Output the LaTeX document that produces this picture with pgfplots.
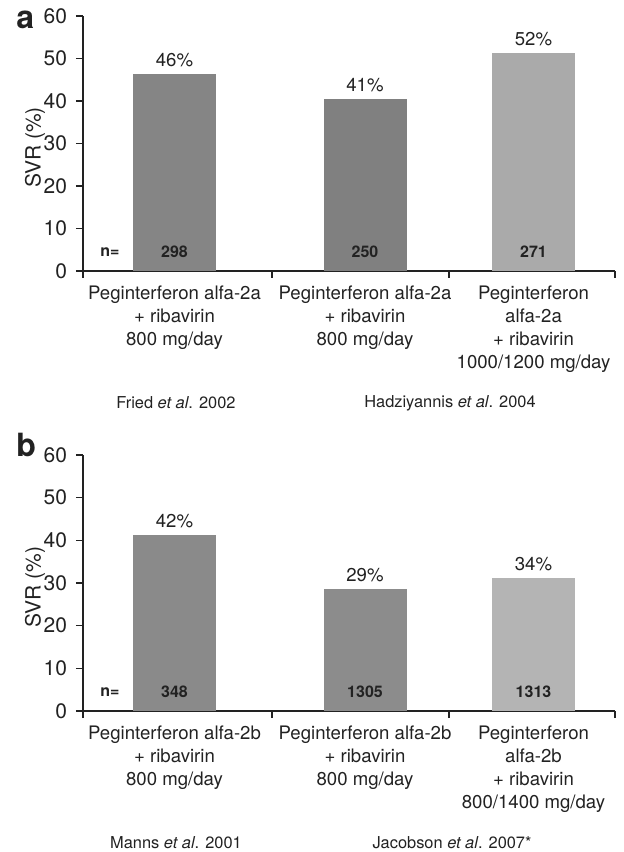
\documentclass[border=0pt]{standalone}
\usepackage{fontspec}
\setmainfont{TeX Gyre Heros}
\usepackage{pgfplots}
\pgfplotsset{compat=1.18}
\definecolor{txt}{HTML}{222222}
\definecolor{ga1}{RGB}{133,133,133}
\definecolor{ga2}{RGB}{128,128,128}
\definecolor{ga3}{RGB}{170,170,170}
\definecolor{gb1}{RGB}{138,138,138}
\definecolor{gb2}{RGB}{140,140,140}
\definecolor{gb3}{RGB}{180,180,180}
\newcommand{\lab}{\fontsize{9.3}{11.5}\selectfont}
\tikzset{nlab/.style={font=\bfseries\fontsize{8}{9}\selectfont, text=txt}}
\pgfplotsset{
 svr/.style={
  scale only axis, width=266pt,
  xmin=83, xmax=615, ymin=0, ymax=60,
  axis x line=bottom, axis y line=left,
  axis line style={-, line width=0.8pt, color=txt},
  tick align=outside, major tick length=3.5pt,
  tick style={line width=0.7pt, color=txt},
  ytick={0,10,...,60},
  xtick={83,272,449,615}, xticklabels={},
  /pgf/number format/assume math mode=true,
  yticklabel style={font=\fontsize{10.5}{12}\selectfont, text=txt, xshift=-1pt},
  ylabel={SVR (\%)},
  ylabel style={at={(axis description cs:0,0.5)}, anchor=center, yshift=24pt, xshift=-2pt, font=\fontsize{10.5}{12}\selectfont, text=txt},
  ybar, bar width=41.5pt,
  nodes near coords, point meta=explicit symbolic,
  every node near coord/.append style={font=\lab, text=txt},
  clip=false,
  extra x ticks={174.5,365,533.5},
  extra x tick style={major tick length=0pt, tick label style={align=center, font=\lab, text=txt, anchor=north, yshift=-4pt}},
 },
}
\begin{document}
\begin{tikzpicture}
\useasboundingbox (0,0) rectangle (312pt,426pt);
% panel a
\begin{axis}[svr, at={(41.5pt,290.5pt)}, anchor=south west, height=127.5pt,
  extra x tick labels={Peginterferon alfa-2a\\+ ribavirin\\800 mg/day,
                       Peginterferon alfa-2a\\+ ribavirin\\800 mg/day,
                       Peginterferon\\alfa-2a\\+ ribavirin\\1000/1200 mg/day}]
\addplot[fill=ga1, draw=none, bar shift=0pt] coordinates {(174.5,46.4) [46\%]};
\addplot[fill=ga2, draw=none, bar shift=0pt] coordinates {(365,40.5) [41\%]};
\addplot[fill=ga3, draw=none, bar shift=0pt] coordinates {(533.5,51.3) [52\%]};
\node[nlab] at (axis cs:110,4.5) {n=};
\node[nlab] at (axis cs:174.5,4.5) {298};
\node[nlab] at (axis cs:365,4.5) {250};
\node[nlab] at (axis cs:533.5,4.5) {271};
\end{axis}
% panel b
\begin{axis}[svr, at={(41.5pt,70.5pt)}, anchor=south west, height=128pt,
  extra x tick labels={Peginterferon alfa-2b\\+ ribavirin\\800 mg/day,
                       Peginterferon alfa-2b\\+ ribavirin\\800 mg/day,
                       Peginterferon\\alfa-2b\\+ ribavirin\\800/1400 mg/day}]
\addplot[fill=gb1, draw=none, bar shift=0pt] coordinates {(174.5,41.3) [42\%]};
\addplot[fill=gb2, draw=none, bar shift=0pt] coordinates {(365,28.6) [29\%]};
\addplot[fill=gb3, draw=none, bar shift=0pt] coordinates {(533.5,31.2) [34\%]};
\node[nlab] at (axis cs:110,4.5) {n=};
\node[nlab] at (axis cs:174.5,4.5) {348};
\node[nlab] at (axis cs:365,4.5) {1305};
\node[nlab] at (axis cs:533.5,4.5) {1313};
\end{axis}
% panel letters
\node[anchor=base west, inner sep=0pt, font=\bfseries\fontsize{16}{16}\selectfont, text=txt] at (8pt,411.5pt) {a};
\node[anchor=base west, inner sep=0pt, font=\bfseries\fontsize{16}{16}\selectfont, text=txt] at (8pt,197.5pt) {b};
% citations
\node[font=\fontsize{8.2}{9}\selectfont, text=txt] at (88pt,224.5pt) {Fried \textit{et al}. 2002};
\node[font=\fontsize{8.2}{9}\selectfont, text=txt] at (225pt,224.5pt) {Hadziyannis \textit{et al}. 2004};
\node[font=\fontsize{8.2}{9}\selectfont, text=txt] at (88pt,4.5pt) {Manns \textit{et al}. 2001};
\node[font=\fontsize{8.2}{9}\selectfont, text=txt] at (226pt,4.5pt) {Jacobson \textit{et al}. 2007*};
\end{tikzpicture}
\end{document}
